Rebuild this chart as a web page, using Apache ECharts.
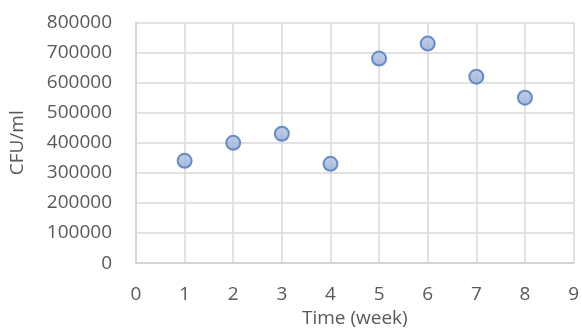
<!DOCTYPE html>
<html>
<head>
<meta charset="utf-8">
<script src="https://cdn.jsdelivr.net/npm/echarts@6/dist/echarts.min.js"></script>
<style>
  html, body { margin: 0; padding: 0; background: #ffffff; }
  #chart { width: 582px; height: 333px; }
</style>
</head>
<body>
<div id="chart"></div>
<script>
// Weekly colony counts
const weeks = [1, 2, 3, 4, 5, 6, 7, 8];
const cfuPerMl = [340000, 400000, 430000, 330000, 680000, 730000, 620000, 550000];

const xAxisTitle = 'Time (week)';
const yAxisTitle = 'CFU/ml';

const points = weeks.map((w, i) => [w, cfuPerMl[i]]);

const textColor = '#595959';
const gridColor = '#d9d9d9';
const fontFamily = '"Open Sans", sans-serif';

const chart = echarts.init(document.getElementById('chart'), null, { renderer: 'canvas' });
chart.setOption({
  animation: false,
  backgroundColor: '#ffffff',
  grid: { left: 134.5, right: 6.5, top: 22.5, bottom: 64, containLabel: false },
  xAxis: {
    type: 'value',
    min: 0, max: 9, interval: 1,
    name: xAxisTitle,
    nameLocation: 'middle',
    nameGap: 44,
    nameTextStyle: { color: textColor, fontSize: 19, fontFamily },
    axisLine: { show: true, lineStyle: { color: '#d0d0d0', width: 1.5 } },
    axisTick: { show: false },
    axisLabel: { color: textColor, fontSize: 19, fontFamily, margin: 22 },
    splitLine: { show: true, lineStyle: { color: gridColor, width: 1.5 } }
  },
  yAxis: {
    type: 'value',
    min: 0, max: 800000, interval: 100000,
    name: yAxisTitle,
    nameLocation: 'middle',
    nameGap: 109,
    nameTextStyle: { color: textColor, fontSize: 19, fontFamily },
    axisLine: { show: true, lineStyle: { color: '#d0d0d0', width: 1.5 } },
    axisTick: { show: false },
    axisLabel: { color: textColor, fontSize: 19, fontFamily, margin: 24, formatter: v => String(v) },
    splitLine: { show: true, lineStyle: { color: gridColor, width: 1.5 } }
  },
  series: [{
    type: 'scatter',
    data: points,
    symbol: 'circle',
    symbolSize: 14,
    itemStyle: {
      color: new echarts.graphic.LinearGradient(0, 0, 0, 1, [
        { offset: 0, color: '#b4c4e4' },
        { offset: 1, color: '#8ea7d6' }
      ]),
      borderColor: '#4a78b8',
      borderWidth: 2
    }
  }]
});
</script>
</body>
</html>
